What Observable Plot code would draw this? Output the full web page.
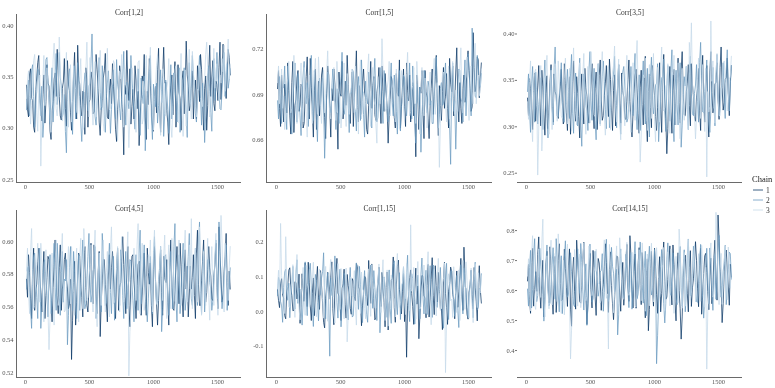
<!DOCTYPE html>
<html><head><meta charset="utf-8">
<script src="https://cdn.jsdelivr.net/npm/d3@7"></script>
<script src="https://cdn.jsdelivr.net/npm/@observablehq/plot@0.6"></script>
<style>
body{margin:0;background:#fff;}
#chart{position:relative;width:775px;height:388px;font-family:"Liberation Serif",serif;overflow:hidden;}
.panel{position:absolute;will-change:transform;}
</style></head><body><div id="chart"></div>
<script>
const chains = ["1","2","3"];
const chainColors = ["#0a3766","#6b9bc0","#c5dae9"];
const nIter = 1600;
const xTicks = [0,500,1000,1500];
const titles = ["Corr[1,2]","Corr[1,5]","Corr[3,5]","Corr[4,5]","Corr[1,15]","Corr[14,15]"];
const yTicks = [[0.25,0.30,0.35,0.40],[0.66,0.69,0.72],[0.25,0.30,0.35,0.40],[0.52,0.54,0.56,0.58,0.60],[-0.1,0.0,0.1,0.2],[0.4,0.5,0.6,0.7,0.8]];
const yDecimals = [2,2,2,2,1,1];

// Panel 1
const p1c1=[0.342,0.318,0.311,0.353,0.358,0.329,0.327,0.301,0.296,0.338,0.349,0.364,0.371,0.335,0.318,0.307,0.333,0.352,0.305,0.326,
0.362,0.344,0.341,0.297,0.289,0.317,0.326,0.348,0.354,0.331,0.377,0.356,0.331,0.312,0.308,0.339,0.345,0.368,0.319,0.302,
0.366,0.343,0.337,0.315,0.298,0.327,0.352,0.374,0.324,0.309,0.381,0.351,0.343,0.322,0.312,0.336,0.335,0.294,0.359,0.347,
0.301,0.325,0.328,0.355,0.347,0.314,0.316,0.341,0.372,0.357,0.339,0.306,0.293,0.319,0.321,0.349,0.356,0.373,0.334,0.311,
0.309,0.337,0.348,0.324,0.363,0.341,0.322,0.299,0.287,0.318,0.331,0.361,0.354,0.328,0.315,0.274,0.342,0.333,0.376,0.345,
0.327,0.358,0.304,0.321,0.338,0.309,0.361,0.347,0.319,0.336,0.283,0.312,0.329,0.351,0.346,0.372,0.311,0.289,0.336,0.323,
0.368,0.342,0.324,0.303,0.297,0.331,0.341,0.315,0.357,0.378,0.318,0.296,0.332,0.351,0.379,0.344,0.345,0.317,0.306,0.284,
0.327,0.342,0.352,0.313,0.338,0.365,0.301,0.327,0.362,0.335,0.329,0.298,0.347,0.356,0.314,0.338,0.385,0.352,0.341,0.317,
0.322,0.339,0.356,0.309,0.335,0.347,0.309,0.361,0.348,0.326,0.372,0.357,0.326,0.298,0.339,0.351,0.298,0.322,0.355,0.381,
0.331,0.349,0.366,0.324,0.317,0.346,0.343,0.327,0.359,0.384,0.328,0.351,0.382,0.363,0.346,0.329,0.351,0.377,0.369,0.352];
const p1c2=[0.318,0.339,0.347,0.312,0.329,0.356,0.362,0.331,0.301,0.322,0.336,0.358,0.355,0.327,0.312,0.341,0.291,0.308,0.344,0.367,
0.369,0.343,0.327,0.304,0.338,0.359,0.306,0.329,0.351,0.373,0.323,0.335,0.374,0.349,0.342,0.311,0.315,0.333,0.297,0.276,
0.333,0.348,0.358,0.326,0.321,0.294,0.346,0.361,0.309,0.331,0.364,0.342,0.331,0.305,0.287,0.316,0.339,0.354,0.353,0.329,
0.317,0.341,0.344,0.363,0.392,0.346,0.326,0.311,0.303,0.327,0.348,0.369,0.335,0.318,0.361,0.347,0.313,0.296,0.329,0.344,
0.356,0.324,0.295,0.318,0.341,0.357,0.322,0.309,0.367,0.343,0.336,0.319,0.308,0.332,0.352,0.375,0.327,0.303,0.345,0.328,
0.319,0.337,0.371,0.349,0.334,0.311,0.299,0.326,0.337,0.358,0.316,0.293,0.349,0.333,0.324,0.351,0.278,0.309,0.331,0.346,
0.356,0.371,0.312,0.289,0.343,0.327,0.321,0.344,0.305,0.322,0.338,0.357,0.325,0.349,0.292,0.314,0.347,0.336,0.318,0.295,
0.336,0.362,0.309,0.325,0.354,0.341,0.328,0.306,0.341,0.359,0.296,0.318,0.332,0.347,0.359,0.334,0.314,0.291,0.346,0.364,
0.323,0.345,0.371,0.352,0.337,0.314,0.306,0.329,0.352,0.371,0.329,0.303,0.344,0.327,0.286,0.312,0.338,0.353,0.361,0.336,
0.315,0.297,0.349,0.368,0.327,0.341,0.374,0.352,0.342,0.319,0.318,0.337,0.355,0.374,0.331,0.348,0.363,0.339,0.347,0.358];
const p1c3=[0.329,0.347,0.356,0.331,0.304,0.322,0.341,0.366,0.372,0.344,0.315,0.297,0.337,0.352,0.263,0.309,0.348,0.371,0.322,0.336,
0.359,0.341,0.331,0.312,0.296,0.325,0.367,0.383,0.343,0.319,0.312,0.335,0.389,0.357,0.335,0.307,0.318,0.342,0.352,0.374,
0.327,0.301,0.345,0.362,0.306,0.327,0.361,0.344,0.338,0.316,0.314,0.339,0.349,0.368,0.325,0.298,0.301,0.323,0.357,0.384,
0.334,0.311,0.369,0.346,0.321,0.303,0.346,0.365,0.311,0.327,0.338,0.355,0.376,0.349,0.328,0.305,0.297,0.324,0.353,0.378,
0.336,0.318,0.319,0.341,0.344,0.366,0.363,0.335,0.307,0.288,0.331,0.356,0.348,0.372,0.322,0.301,0.358,0.343,0.339,0.315,
0.281,0.309,0.334,0.359,0.351,0.327,0.317,0.296,0.343,0.364,0.366,0.338,0.326,0.304,0.309,0.336,0.345,0.371,0.321,0.299,
0.356,0.379,0.333,0.314,0.298,0.327,0.342,0.361,0.371,0.347,0.318,0.293,0.337,0.358,0.353,0.334,0.312,0.339,0.346,0.368,
0.327,0.303,0.291,0.322,0.339,0.357,0.361,0.343,0.324,0.305,0.348,0.373,0.315,0.292,0.336,0.357,0.302,0.328,0.352,0.377,
0.328,0.309,0.375,0.354,0.343,0.321,0.311,0.338,0.337,0.362,0.358,0.331,0.321,0.343,0.347,0.372,0.384,0.359,0.332,0.311,
0.316,0.344,0.351,0.378,0.339,0.356,0.363,0.341,0.327,0.352,0.344,0.368,0.355,0.381,0.336,0.359,0.369,0.387,0.348,0.362];
// Panel 2
const p2c1=[0.694,0.706,0.681,0.669,0.703,0.688,0.672,0.697,0.689,0.678,0.711,0.693,0.676,0.664,0.698,0.712,0.665,0.683,0.687,0.701,
0.706,0.679,0.683,0.697,0.695,0.668,0.671,0.689,0.702,0.715,0.688,0.674,0.714,0.695,0.679,0.662,0.693,0.707,0.667,0.684,
0.699,0.676,0.684,0.703,0.708,0.686,0.675,0.661,0.691,0.709,0.703,0.681,0.662,0.694,0.686,0.707,0.697,0.678,0.678,0.654,
0.705,0.691,0.689,0.712,0.674,0.686,0.699,0.683,0.716,0.697,0.685,0.671,0.692,0.705,0.669,0.688,0.701,0.719,0.683,0.672,
0.696,0.684,0.677,0.699,0.707,0.691,0.688,0.667,0.664,0.683,0.694,0.712,0.681,0.696,0.702,0.677,0.673,0.691,0.697,0.708,
0.686,0.671,0.709,0.692,0.679,0.704,0.693,0.681,0.658,0.676,0.687,0.702,0.699,0.684,0.675,0.668,0.704,0.691,0.689,0.713,
0.668,0.682,0.695,0.707,0.682,0.669,0.711,0.693,0.686,0.703,0.672,0.687,0.698,0.676,0.684,0.649,0.703,0.688,0.667,0.695,
0.691,0.706,0.679,0.661,0.706,0.692,0.688,0.674,0.661,0.683,0.694,0.707,0.677,0.689,0.702,0.716,0.685,0.663,0.696,0.683,
0.673,0.692,0.708,0.681,0.689,0.704,0.681,0.668,0.714,0.697,0.692,0.709,0.676,0.685,0.705,0.721,0.687,0.672,0.698,0.681,
0.671,0.694,0.703,0.685,0.689,0.711,0.719,0.706,0.694,0.679,0.682,0.731,0.708,0.692,0.697,0.715,0.713,0.688,0.701,0.711];
const p2c2=[0.686,0.674,0.702,0.691,0.671,0.694,0.695,0.709,0.681,0.667,0.709,0.697,0.688,0.675,0.664,0.689,0.697,0.711,0.683,0.672,
0.704,0.688,0.676,0.663,0.692,0.703,0.712,0.687,0.684,0.698,0.669,0.681,0.699,0.716,0.687,0.673,0.706,0.692,0.674,0.659,
0.693,0.701,0.681,0.696,0.701,0.684,0.648,0.672,0.689,0.705,0.697,0.683,0.678,0.694,0.707,0.689,0.685,0.667,0.694,0.679,
0.671,0.693,0.702,0.718,0.688,0.677,0.681,0.699,0.696,0.684,0.665,0.691,0.691,0.707,0.705,0.682,0.679,0.666,0.694,0.702,
0.686,0.673,0.713,0.691,0.677,0.662,0.699,0.688,0.684,0.705,0.692,0.681,0.668,0.693,0.701,0.714,0.687,0.672,0.675,0.689,
0.697,0.708,0.683,0.671,0.706,0.696,0.691,0.679,0.672,0.687,0.698,0.711,0.685,0.676,0.703,0.692,0.679,0.664,0.694,0.706,
0.666,0.683,0.688,0.703,0.701,0.682,0.676,0.689,0.693,0.711,0.684,0.674,0.709,0.693,0.671,0.658,0.697,0.685,0.683,0.695,
0.652,0.677,0.689,0.706,0.702,0.684,0.678,0.699,0.695,0.683,0.686,0.671,0.671,0.694,0.704,0.715,0.689,0.668,0.677,0.694,
0.698,0.683,0.684,0.701,0.711,0.692,0.687,0.679,0.669,0.644,0.696,0.711,0.679,0.686,0.654,0.678,0.693,0.707,0.706,0.688,
0.685,0.672,0.699,0.713,0.676,0.694,0.717,0.706,0.691,0.676,0.734,0.712,0.703,0.689,0.688,0.716,0.709,0.697,0.695,0.704];
const p2c3=[0.698,0.709,0.684,0.693,0.707,0.681,0.689,0.667,0.673,0.694,0.701,0.712,0.692,0.678,0.681,0.697,0.716,0.702,0.687,0.671,
0.676,0.692,0.699,0.711,0.685,0.672,0.708,0.694,0.679,0.662,0.694,0.703,0.688,0.681,0.671,0.692,0.703,0.714,0.691,0.677,
0.715,0.698,0.682,0.671,0.697,0.706,0.678,0.691,0.705,0.719,0.689,0.677,0.674,0.693,0.699,0.708,0.686,0.673,0.712,0.695,
0.691,0.684,0.668,0.679,0.697,0.711,0.683,0.669,0.704,0.696,0.677,0.688,0.694,0.707,0.687,0.678,0.709,0.694,0.681,0.664,
0.699,0.713,0.674,0.686,0.692,0.679,0.685,0.699,0.706,0.717,0.679,0.669,0.697,0.708,0.688,0.683,0.671,0.658,0.702,0.691,
0.684,0.696,0.727,0.705,0.693,0.679,0.681,0.694,0.699,0.712,0.676,0.686,0.694,0.701,0.686,0.672,0.707,0.693,0.682,0.667,
0.698,0.706,0.689,0.681,0.673,0.691,0.704,0.718,0.691,0.676,0.679,0.693,0.696,0.708,0.685,0.671,0.712,0.699,0.678,0.664,
0.694,0.708,0.683,0.676,0.701,0.689,0.668,0.683,0.692,0.705,0.686,0.672,0.703,0.714,0.677,0.693,0.698,0.683,0.642,0.671,
0.689,0.703,0.705,0.689,0.684,0.672,0.696,0.709,0.674,0.688,0.701,0.712,0.688,0.677,0.693,0.681,0.679,0.697,0.707,0.721,
0.691,0.678,0.683,0.699,0.702,0.715,0.686,0.673,0.697,0.709,0.692,0.684,0.711,0.724,0.684,0.699,0.703,0.689,0.695,0.707];
// Panel 3
const p3c1=[0.331,0.312,0.352,0.341,0.318,0.297,0.339,0.358,0.306,0.323,0.344,0.366,0.327,0.301,0.361,0.343,0.313,0.291,0.336,0.355,
0.298,0.319,0.348,0.367,0.322,0.305,0.357,0.338,0.334,0.312,0.309,0.329,0.343,0.362,0.326,0.303,0.368,0.347,0.315,0.296,
0.337,0.354,0.292,0.317,0.349,0.371,0.328,0.306,0.354,0.336,0.311,0.288,0.338,0.357,0.321,0.303,0.363,0.342,0.333,0.314,
0.304,0.327,0.346,0.368,0.319,0.298,0.341,0.359,0.297,0.318,0.355,0.372,0.329,0.307,0.312,0.334,0.347,0.366,0.335,0.311,
0.373,0.351,0.318,0.296,0.339,0.356,0.301,0.323,0.344,0.367,0.325,0.304,0.358,0.339,0.332,0.309,0.308,0.327,0.351,0.372,
0.327,0.305,0.289,0.314,0.336,0.355,0.362,0.341,0.314,0.293,0.342,0.361,0.324,0.302,0.353,0.376,0.307,0.284,0.338,0.357,
0.321,0.299,0.366,0.345,0.334,0.311,0.296,0.321,0.345,0.369,0.319,0.294,0.357,0.378,0.331,0.309,0.271,0.298,0.343,0.365,
0.316,0.293,0.339,0.362,0.302,0.327,0.352,0.374,0.326,0.304,0.361,0.381,0.335,0.313,0.312,0.338,0.347,0.367,0.323,0.301,
0.368,0.346,0.333,0.311,0.306,0.332,0.341,0.363,0.318,0.296,0.355,0.377,0.329,0.305,0.344,0.366,0.313,0.289,0.359,0.381,
0.337,0.315,0.321,0.346,0.348,0.369,0.331,0.308,0.364,0.386,0.342,0.318,0.326,0.351,0.353,0.374,0.335,0.312,0.349,0.366];
const p3c2=[0.338,0.357,0.316,0.294,0.347,0.365,0.326,0.305,0.359,0.337,0.303,0.324,0.334,0.353,0.318,0.297,0.351,0.372,0.329,0.309,
0.288,0.311,0.342,0.363,0.323,0.302,0.364,0.386,0.336,0.314,0.311,0.333,0.348,0.369,0.327,0.306,0.305,0.327,0.344,0.362,
0.331,0.309,0.357,0.378,0.314,0.293,0.339,0.358,0.322,0.301,0.353,0.374,0.301,0.279,0.336,0.357,0.345,0.323,0.317,0.296,
0.362,0.381,0.328,0.307,0.341,0.363,0.307,0.286,0.349,0.368,0.324,0.303,0.335,0.354,0.371,0.349,0.319,0.298,0.343,0.365,
0.299,0.321,0.332,0.351,0.356,0.376,0.321,0.299,0.346,0.367,0.313,0.292,0.338,0.359,0.365,0.344,0.326,0.305,0.309,0.332,
0.344,0.365,0.333,0.312,0.358,0.379,0.318,0.297,0.337,0.356,0.296,0.318,0.349,0.371,0.325,0.303,0.341,0.363,0.311,0.289,
0.354,0.375,0.336,0.314,0.322,0.345,0.347,0.368,0.284,0.307,0.331,0.353,0.352,0.373,0.317,0.295,0.343,0.366,0.328,0.306,
0.362,0.383,0.305,0.284,0.339,0.361,0.324,0.302,0.348,0.369,0.278,0.301,0.331,0.354,0.344,0.365,0.319,0.297,0.357,0.376,
0.336,0.314,0.312,0.336,0.345,0.367,0.327,0.305,0.369,0.391,0.338,0.316,0.315,0.338,0.351,0.372,0.329,0.307,0.294,0.318,
0.342,0.364,0.323,0.301,0.356,0.378,0.334,0.312,0.318,0.341,0.347,0.369,0.331,0.309,0.361,0.383,0.339,0.317,0.345,0.366];
const p3c3=[0.327,0.308,0.349,0.371,0.305,0.284,0.338,0.359,0.362,0.341,0.248,0.299,0.344,0.366,0.274,0.303,0.331,0.352,0.356,0.377,
0.313,0.292,0.339,0.361,0.297,0.321,0.346,0.368,0.328,0.306,0.371,0.349,0.334,0.312,0.309,0.331,0.352,0.374,0.325,0.303,
0.341,0.363,0.318,0.296,0.364,0.385,0.337,0.315,0.302,0.326,0.348,0.369,0.329,0.307,0.357,0.379,0.314,0.292,0.343,0.365,
0.326,0.304,0.381,0.358,0.335,0.313,0.311,0.334,0.347,0.368,0.322,0.301,0.359,0.381,0.333,0.311,0.291,0.315,0.344,0.366,
0.319,0.297,0.338,0.359,0.366,0.387,0.327,0.305,0.351,0.373,0.308,0.286,0.336,0.357,0.323,0.301,0.355,0.377,0.341,0.319,
0.316,0.294,0.347,0.369,0.329,0.307,0.372,0.393,0.338,0.316,0.262,0.289,0.334,0.356,0.353,0.374,0.318,0.296,0.345,0.367,
0.331,0.309,0.358,0.379,0.306,0.284,0.342,0.364,0.327,0.305,0.364,0.386,0.339,0.317,0.321,0.344,0.346,0.368,0.315,0.293,
0.337,0.359,0.356,0.377,0.324,0.302,0.348,0.369,0.309,0.287,0.341,0.363,0.329,0.307,0.343,0.365,0.319,0.297,0.391,0.368,
0.412,0.346,0.336,0.314,0.287,0.311,0.352,0.374,0.331,0.309,0.345,0.367,0.317,0.295,0.363,0.246,0.338,0.316,0.322,0.414,
0.349,0.371,0.326,0.304,0.357,0.379,0.334,0.312,0.312,0.336,0.346,0.368,0.371,0.349,0.339,0.317,0.328,0.351,0.354,0.376];
// Panel 4
const p4c1=[0.577,0.566,0.592,0.581,0.565,0.553,0.583,0.596,0.558,0.571,0.574,0.588,0.596,0.579,0.569,0.557,0.581,0.594,0.553,0.567,
0.578,0.591,0.589,0.574,0.564,0.551,0.572,0.585,0.601,0.583,0.567,0.556,0.584,0.598,0.558,0.571,0.576,0.589,0.593,0.577,
0.571,0.559,0.562,0.577,0.528,0.552,0.575,0.588,0.549,0.563,0.579,0.593,0.591,0.576,0.566,0.554,0.583,0.597,0.572,0.561,
0.557,0.571,0.586,0.599,0.574,0.562,0.598,0.583,0.568,0.556,0.581,0.594,0.542,0.563,0.576,0.589,0.589,0.574,0.563,0.551,
0.579,0.592,0.571,0.584,0.594,0.579,0.566,0.553,0.582,0.596,0.558,0.572,0.575,0.588,0.603,0.586,0.569,0.556,0.584,0.597,
0.561,0.548,0.577,0.591,0.592,0.576,0.566,0.553,0.573,0.586,0.588,0.572,0.555,0.568,0.579,0.593,0.568,0.555,0.596,0.581,
0.574,0.587,0.561,0.548,0.583,0.597,0.577,0.563,0.549,0.564,0.581,0.595,0.569,0.555,0.591,0.578,0.575,0.589,0.563,0.549,
0.587,0.601,0.572,0.559,0.558,0.573,0.584,0.597,0.576,0.562,0.599,0.585,0.566,0.554,0.581,0.595,0.571,0.585,0.554,0.568,
0.585,0.571,0.578,0.592,0.567,0.553,0.593,0.607,0.574,0.561,0.561,0.576,0.588,0.601,0.576,0.563,0.569,0.583,0.597,0.584,
0.579,0.565,0.564,0.578,0.586,0.599,0.572,0.559,0.609,0.594,0.577,0.563,0.568,0.582,0.591,0.605,0.575,0.561,0.582,0.571];
const p4c2=[0.571,0.584,0.585,0.572,0.559,0.547,0.578,0.591,0.593,0.579,0.566,0.553,0.582,0.596,0.547,0.561,0.574,0.587,0.589,0.575,
0.567,0.554,0.579,0.592,0.556,0.569,0.586,0.599,0.572,0.558,0.599,0.585,0.568,0.555,0.581,0.594,0.563,0.577,0.576,0.589,
0.537,0.555,0.584,0.597,0.571,0.558,0.594,0.581,0.566,0.553,0.579,0.592,0.558,0.571,0.587,0.601,0.573,0.559,0.562,0.576,
0.591,0.605,0.577,0.563,0.568,0.582,0.584,0.597,0.553,0.566,0.579,0.593,0.571,0.557,0.605,0.591,0.574,0.561,0.563,0.577,
0.586,0.599,0.569,0.556,0.578,0.591,0.552,0.566,0.582,0.595,0.574,0.561,0.595,0.582,0.567,0.553,0.581,0.594,0.559,0.573,
0.576,0.589,0.588,0.574,0.564,0.551,0.579,0.592,0.571,0.558,0.593,0.607,0.562,0.576,0.585,0.598,0.574,0.561,0.551,0.565,
0.578,0.591,0.569,0.556,0.589,0.603,0.576,0.562,0.563,0.577,0.584,0.597,0.545,0.559,0.577,0.591,0.592,0.578,0.568,0.555,
0.581,0.594,0.573,0.559,0.597,0.611,0.564,0.551,0.579,0.592,0.556,0.569,0.586,0.599,0.572,0.558,0.566,0.579,0.591,0.605,
0.578,0.565,0.561,0.575,0.583,0.596,0.574,0.561,0.598,0.612,0.569,0.556,0.582,0.595,0.557,0.571,0.576,0.589,0.589,0.575,
0.571,0.558,0.564,0.578,0.587,0.601,0.579,0.565,0.612,0.598,0.573,0.559,0.566,0.579,0.585,0.598,0.558,0.571,0.571,0.584];
const p4c3=[0.582,0.596,0.569,0.556,0.594,0.608,0.573,0.559,0.561,0.575,0.586,0.599,0.577,0.563,0.599,0.586,0.565,0.551,0.581,0.595,
0.572,0.558,0.534,0.553,0.579,0.593,0.563,0.549,0.588,0.601,0.575,0.561,0.567,0.581,0.592,0.605,0.571,0.557,0.558,0.572,
0.584,0.597,0.576,0.562,0.597,0.583,0.569,0.555,0.582,0.596,0.564,0.551,0.589,0.602,0.573,0.559,0.608,0.594,0.578,0.564,
0.566,0.579,0.585,0.598,0.571,0.557,0.593,0.607,0.562,0.548,0.579,0.593,0.574,0.561,0.587,0.601,0.571,0.557,0.581,0.594,
0.568,0.554,0.595,0.609,0.576,0.562,0.563,0.577,0.584,0.597,0.571,0.557,0.589,0.603,0.577,0.563,0.566,0.579,0.592,0.606,
0.518,0.545,0.559,0.573,0.583,0.596,0.578,0.564,0.598,0.611,0.569,0.556,0.586,0.599,0.572,0.558,0.564,0.578,0.579,0.592,
0.587,0.601,0.571,0.557,0.594,0.607,0.576,0.562,0.561,0.575,0.583,0.597,0.578,0.564,0.591,0.604,0.567,0.553,0.585,0.598,
0.573,0.559,0.602,0.588,0.578,0.564,0.562,0.576,0.587,0.601,0.574,0.561,0.568,0.582,0.593,0.607,0.576,0.563,0.585,0.598,
0.571,0.614,0.559,0.573,0.582,0.596,0.577,0.563,0.596,0.609,0.569,0.555,0.581,0.594,0.574,0.561,0.589,0.602,0.566,0.552,
0.583,0.597,0.575,0.561,0.592,0.605,0.568,0.555,0.579,0.592,0.616,0.599,0.571,0.557,0.599,0.585,0.577,0.564,0.584,0.597];
// Panel 5
const p5c1=[0.062,0.031,0.011,0.079,0.094,0.047,0.038,-0.012,-0.021,0.056,0.071,0.118,0.125,0.064,0.046,0.002,0.003,0.085,0.083,0.036,
0.057,0.107,-0.034,0.021,0.108,0.067,0.029,0.139,0.066,0.014,0.141,0.082,0.015,-0.026,0.052,0.096,-0.012,0.044,0.089,0.129,
0.041,0.006,0.117,0.073,0.024,-0.031,-0.047,0.038,0.073,0.112,0.035,0.078,0.098,0.142,0.008,-0.038,0.061,0.104,0.152,0.053,
0.044,0.019,-0.026,0.066,0.079,0.121,0.019,-0.019,0.106,0.074,0.053,0.009,-0.008,0.094,0.087,0.043,0.031,0.137,0.128,0.071,
0.064,0.027,-0.041,0.018,0.049,0.101,0.096,0.039,0.017,0.146,0.072,0.023,0.136,0.088,0.037,-0.024,-0.019,0.052,0.081,0.127,
0.056,0.014,0.112,0.068,0.026,-0.044,0.069,0.113,-0.053,0.021,0.042,0.089,0.093,0.156,0.011,-0.031,0.076,0.128,0.147,0.063,
0.033,-0.007,0.058,0.109,-0.029,0.036,-0.131,0.018,0.047,0.097,0.119,0.052,0.014,-0.037,0.067,0.124,0.021,0.073,-0.078,-0.011,
0.054,0.103,0.101,0.045,0.038,-0.018,0.074,0.135,-0.016,0.041,0.091,0.154,0.045,-0.009,0.131,0.074,0.027,0.112,0.063,0.008,
0.007,-0.052,0.095,0.141,0.051,0.012,-0.037,0.058,0.079,0.127,0.115,0.049,0.034,-0.021,0.068,0.116,0.012,0.058,0.102,0.152,
0.056,0.003,0.184,0.109,0.041,-0.008,-0.022,0.055,0.077,0.118,0.048,0.007,0.126,0.069,0.029,-0.027,0.083,0.131,0.061,0.024];
const p5c2=[0.045,0.098,0.087,0.029,0.016,-0.031,0.069,0.113,0.121,0.058,0.032,0.081,-0.018,0.036,0.076,0.129,0.054,0.007,0.109,0.148,
0.023,0.067,0.064,0.011,-0.039,0.027,0.091,0.142,0.037,-0.012,0.072,0.119,0.138,0.074,0.011,-0.043,0.058,0.106,0.083,0.026,
-0.027,0.044,0.049,0.096,0.114,0.168,0.031,-0.021,0.067,0.111,0.013,-0.128,0.096,0.047,0.042,0.093,0.159,0.102,0.026,-0.019,
0.073,0.121,-0.044,0.016,0.058,0.109,0.104,0.052,0.019,-0.024,0.081,0.126,0.036,-0.016,-0.012,0.063,0.092,0.139,0.055,0.006,
0.129,0.078,0.014,-0.032,0.068,0.117,0.043,-0.008,-0.031,0.052,0.085,0.133,0.061,0.009,0.117,0.069,0.027,-0.026,0.074,0.122,
-0.061,0.013,0.047,0.094,0.099,0.046,0.033,-0.017,0.071,0.119,0.008,-0.034,0.088,0.134,0.145,0.087,0.039,-0.009,0.062,0.111,
-0.023,0.038,0.079,0.127,0.051,0.004,0.112,0.161,0.018,-0.029,0.066,0.108,0.094,0.041,-0.036,0.022,0.057,0.104,0.028,-0.021,
0.106,0.153,0.044,-0.007,0.072,0.118,-0.009,0.049,0.083,0.131,0.035,-0.017,0.133,0.079,0.063,0.014,0.012,0.067,0.078,0.126,
0.047,-0.004,-0.048,0.028,0.091,0.138,0.025,-0.023,0.069,0.114,0.118,0.064,0.038,-0.014,0.056,0.103,0.003,-0.046,0.087,0.134,
0.043,-0.007,0.124,0.071,0.066,0.011,-0.017,0.053,0.071,0.117,0.034,-0.018,0.098,0.141,0.052,0.005,0.011,0.066,0.064,0.108];
const p5c3=[0.071,0.118,0.029,0.252,0.103,0.052,0.048,-0.006,0.214,0.087,0.064,0.013,0.012,0.071,0.085,0.134,0.037,-0.017,0.116,0.163,
0.059,0.008,-0.024,0.047,0.078,0.126,0.041,-0.011,0.132,0.081,0.066,0.014,0.019,0.073,0.094,0.141,0.052,0.003,-0.015,0.058,
0.073,0.121,0.107,0.053,0.035,-0.019,0.081,0.129,0.026,-0.028,0.061,0.112,0.149,0.095,0.044,-0.008,-0.033,0.041,0.089,0.137,
0.057,0.006,0.123,0.071,0.031,-0.021,0.076,0.124,-0.087,-0.012,0.049,0.098,0.097,0.044,0.068,0.117,0.014,-0.039,0.084,0.131,
0.042,-0.006,0.113,0.064,0.059,0.008,-0.021,0.047,0.075,0.122,0.038,-0.014,0.134,0.083,0.062,0.011,0.009,0.063,0.088,0.136,
0.047,-0.003,0.101,0.148,0.025,-0.026,0.071,0.119,-0.042,0.019,0.056,0.104,0.093,0.041,0.036,-0.016,0.118,0.166,0.065,0.012,
0.022,0.076,0.082,0.129,0.044,-0.009,0.137,0.084,0.053,0.002,0.248,0.058,0.079,0.126,0.031,-0.022,0.096,0.143,0.058,0.007,
0.014,0.069,0.087,0.133,0.046,-0.006,0.122,0.171,0.067,0.015,-0.038,0.029,0.073,0.121,0.039,-0.013,0.105,0.152,0.054,0.003,
0.028,0.081,0.092,0.139,-0.175,-0.028,0.061,0.108,0.084,0.031,0.035,-0.017,0.128,0.077,0.049,-0.003,0.071,0.119,-0.026,0.043,
0.098,0.146,0.057,0.006,0.142,0.089,0.033,-0.019,0.076,0.124,0.018,-0.032,0.089,0.137,0.062,0.011,0.111,0.058,0.053,0.102];
// Panel 6
const p6c1=[0.632,0.688,0.571,0.524,0.694,0.741,0.548,0.603,0.663,0.597,0.721,0.779,0.598,0.541,0.642,0.701,0.512,0.579,0.679,0.731,
0.615,0.559,0.746,0.683,0.583,0.521,0.657,0.714,0.527,0.589,0.701,0.756,0.624,0.566,0.569,0.633,0.738,0.674,0.611,0.547,
0.685,0.739,0.538,0.481,0.652,0.711,0.596,0.538,0.768,0.702,0.627,0.563,0.558,0.618,0.703,0.761,0.641,0.584,0.487,0.556,
0.668,0.724,0.603,0.542,0.734,0.676,0.579,0.517,0.646,0.707,0.692,0.633,0.534,0.597,0.621,0.681,0.756,0.693,0.588,0.527,
0.671,0.729,0.617,0.556,0.503,0.571,0.659,0.716,0.712,0.651,0.592,0.531,0.638,0.694,0.551,0.612,0.697,0.754,0.626,0.564,
0.783,0.716,0.604,0.542,0.664,0.722,0.541,0.602,0.689,0.743,0.616,0.553,0.727,0.664,0.573,0.509,0.648,0.706,0.466,0.537,
0.673,0.731,0.609,0.548,0.741,0.681,0.586,0.524,0.655,0.713,0.529,0.591,0.706,0.762,0.631,0.571,0.578,0.637,0.694,0.749,
0.613,0.552,0.752,0.687,0.562,0.499,0.668,0.726,0.601,0.541,0.438,0.512,0.643,0.702,0.718,0.654,0.591,0.529,0.676,0.733,
0.547,0.609,0.639,0.697,0.763,0.701,0.608,0.546,0.683,0.741,0.521,0.583,0.657,0.716,0.724,0.661,0.597,0.536,0.649,0.708,
0.556,0.618,0.711,0.768,0.628,0.568,0.852,0.773,0.679,0.617,0.493,0.556,0.662,0.721,0.735,0.672,0.612,0.551,0.688,0.645];
const p6c2=[0.605,0.548,0.677,0.734,0.542,0.603,0.718,0.773,0.626,0.563,0.583,0.646,0.741,0.681,0.651,0.587,0.498,0.561,0.694,0.752,
0.612,0.549,0.559,0.621,0.686,0.743,0.634,0.571,0.773,0.709,0.592,0.529,0.657,0.716,0.523,0.587,0.709,0.766,0.641,0.578,
0.588,0.649,0.726,0.663,0.617,0.553,0.546,0.609,0.682,0.739,0.653,0.591,0.757,0.693,0.598,0.535,0.631,0.689,0.484,0.548,
0.699,0.755,0.622,0.561,0.572,0.634,0.731,0.668,0.644,0.581,0.603,0.662,0.667,0.723,0.531,0.594,0.715,0.771,0.627,0.564,
0.586,0.648,0.744,0.681,0.658,0.594,0.612,0.671,0.452,0.519,0.683,0.739,0.639,0.576,0.577,0.638,0.721,0.658,0.605,0.543,
0.669,0.726,0.538,0.601,0.707,0.763,0.636,0.573,0.589,0.651,0.762,0.698,0.621,0.558,0.674,0.731,0.516,0.579,0.692,0.748,
0.648,0.585,0.601,0.663,0.737,0.672,0.356,0.451,0.565,0.627,0.681,0.737,0.619,0.556,0.492,0.557,0.703,0.759,0.657,0.594,
0.584,0.646,0.726,0.662,0.634,0.571,0.553,0.615,0.691,0.747,0.611,0.548,0.679,0.736,0.529,0.592,0.716,0.772,0.645,0.582,
0.593,0.655,0.748,0.684,0.626,0.563,0.561,0.623,0.698,0.754,0.637,0.574,0.508,0.572,0.684,0.741,0.619,0.556,0.742,0.679,
0.597,0.534,0.663,0.721,0.571,0.633,0.728,0.784,0.641,0.578,0.602,0.664,0.694,0.751,0.553,0.617,0.671,0.728,0.723,0.638];
const p6c3=[0.648,0.706,0.593,0.532,0.726,0.783,0.614,0.552,0.537,0.601,0.682,0.739,0.639,0.577,0.761,0.838,0.574,0.512,0.658,0.716,
0.601,0.539,0.711,0.768,0.552,0.614,0.667,0.724,0.625,0.563,0.789,0.722,0.587,0.524,0.643,0.701,0.519,0.583,0.698,0.755,
0.632,0.571,0.372,0.468,0.576,0.638,0.737,0.673,0.611,0.548,0.664,0.722,0.543,0.606,0.702,0.759,0.628,0.566,0.581,0.643,
0.749,0.684,0.646,0.583,0.602,0.663,0.681,0.738,0.687,0.624,0.621,0.559,0.568,0.631,0.713,0.769,0.637,0.574,0.589,0.405,
0.754,0.689,0.659,0.596,0.526,0.589,0.692,0.749,0.618,0.555,0.776,0.711,0.633,0.571,0.572,0.634,0.704,0.761,0.647,0.584,
0.597,0.659,0.728,0.664,0.611,0.548,0.545,0.608,0.679,0.736,0.628,0.566,0.759,0.694,0.594,0.531,0.664,0.722,0.612,0.549,
0.701,0.758,0.625,0.562,0.582,0.644,0.743,0.679,0.641,0.578,0.598,0.661,0.688,0.744,0.533,0.597,0.671,0.729,0.612,0.549,
0.739,0.676,0.587,0.524,0.656,0.714,0.622,0.559,0.805,0.737,0.603,0.541,0.669,0.727,0.548,0.611,0.714,0.771,0.631,0.568,
0.591,0.653,0.696,0.752,0.562,0.625,0.665,0.723,0.627,0.564,0.751,0.687,0.607,0.544,0.678,0.338,0.531,0.594,0.702,0.759,
0.641,0.578,0.589,0.651,0.861,0.764,0.616,0.553,0.667,0.724,0.554,0.617,0.693,0.749,0.632,0.569,0.745,0.681,0.608,0.682];

const series = [[p1c1,p1c2,p1c3],[p2c1,p2c2,p2c3],[p3c1,p3c2,p3c3],[p4c1,p4c2,p4c3],[p5c1,p5c2,p5c3],[p6c1,p6c2,p6c3]];

// layout (not data)
const colLayout = [
  {left:0,   width:250, ml:16, mr:9, xd:[-70,1688], axisLine:true,  tickSize:0, tickPad:3},
  {left:250, width:250, ml:16, mr:8, xd:[-78,1687], axisLine:true,  tickSize:0, tickPad:3},
  {left:500, width:250, ml:17, mr:8, xd:[-70,1687], axisLine:false, tickSize:2, tickPad:1}
];
const rowLayout = [
  {top:0,   height:195, mt:14, mb:13},
  {top:195, height:193, mt:15, mb:11}
];
const yDomains = [[0.247,0.411],[0.632,0.743],[0.240,0.421],[0.517,0.619],[-0.189,0.289],[0.31,0.867]];

const root = document.getElementById("chart");
series.forEach((chs, k) => {
  const col = colLayout[k % 3], row = rowLayout[Math.floor(k / 3)];
  const rows = [];
  chs.forEach((vals, c) => {
    vals.forEach((v, i) => rows.push({chain: chains[c], iter: (i + 1) * nIter / vals.length, value: v}));
  });
  const dec = yDecimals[k];
  const fmt = d => d.toFixed(dec);
  const marks = [
    Plot.axisX({ticks: xTicks, tickSize: 0, tickPadding: 2, tickFormat: d => String(d), fill: "#555"}),
    Plot.axisY({ticks: yTicks[k], tickSize: col.tickSize, tickPadding: col.tickPad, tickFormat: fmt, fill: "#555", stroke: "#777"}),
    Plot.lineY(rows, {x: "iter", y: "value", z: "chain", stroke: "chain", strokeWidth: 0.75}),
    Plot.ruleY([yDomains[k][0]], {stroke: "#6a6a6a", strokeWidth: 1}),
    Plot.text([titles[k]], {frameAnchor: "top", dy: -5, fontSize: 7.5, fill: "#333"})
  ];
  if (col.axisLine) marks.push(Plot.ruleX([col.xd[0]], {stroke: "#6a6a6a", strokeWidth: 1}));
  const svg = Plot.plot({
    width: col.width, height: row.height,
    marginLeft: col.ml, marginRight: col.mr, marginTop: row.mt, marginBottom: row.mb,
    x: {domain: col.xd, label: null},
    y: {domain: yDomains[k], label: null},
    color: {domain: chains, range: chainColors},
    style: {fontFamily: "'Liberation Serif', serif", fontSize: "6.5px", background: "transparent", overflow: "visible"},
    marks
  });
  svg.classList.add("panel");
  svg.style.left = col.left + "px";
  svg.style.top = row.top + "px";
  root.appendChild(svg);
});

// legend
const leg = d3.select(root).append("svg").attr("class","panel")
  .style("left","745px").style("top","170px").attr("width",30).attr("height",50)
  .style("font-family","'Liberation Serif', serif");
leg.append("text").attr("x",7).attr("y",12).attr("font-size",8.5).attr("fill","#222").text("Chain");
chains.forEach((c, i) => {
  const y = 20 + i * 10;
  leg.append("line").attr("x1",8).attr("x2",18).attr("y1",y).attr("y2",y)
    .attr("stroke",chainColors[i]).attr("stroke-width",0.8);
  leg.append("text").attr("x",21).attr("y",y+2.5).attr("font-size",7.5).attr("fill","#333").text(c);
});
</script>
</body></html>
